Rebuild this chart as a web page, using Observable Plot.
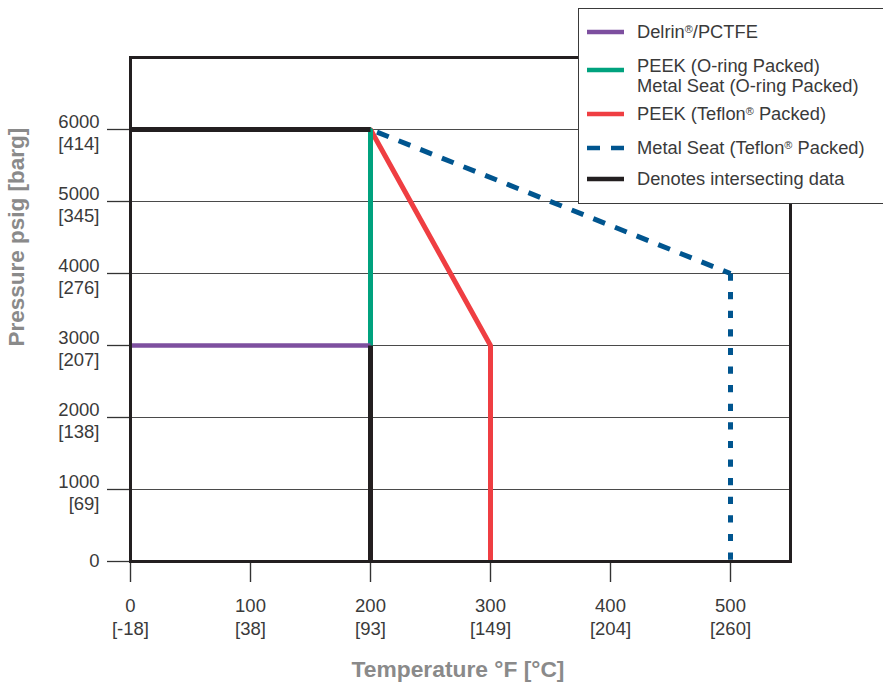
<!DOCTYPE html>
<html>
<head>
<meta charset="utf-8">
<script src="https://cdn.jsdelivr.net/npm/d3@7"></script>
<script src="https://cdn.jsdelivr.net/npm/@observablehq/plot@0.6"></script>
<style>
  html, body { margin: 0; padding: 0; background: #fff; overflow: hidden; }
  #wrap { position: relative; width: 883px; height: 685px; overflow: hidden; font-family: "Liberation Sans", Arial, sans-serif; }
  #wrap > svg.chart { position: absolute; left: 0; top: 0; }
  #legend { position: absolute; left: 578px; top: 8px; width: 330px; height: 196px; box-sizing: border-box;
            border: 1.5px solid #3a3a3a; background: #fff; }
  .lg-text { position: absolute; left: 637px; font-size: 18.3px; line-height: 20px; color: #3a3a3a; white-space: pre; }
  svg.lg-sw { position: absolute; left: 587px; }
  .reg { font-size: 0.6em; vertical-align: 0.45em; line-height: 0; }
</style>
</head>
<body>
<div id="wrap"></div>
<script>
// ---------- data ----------
const tempF = [0, 100, 200, 300, 400, 500];
const tempC = ["[-18]", "[38]", "[93]", "[149]", "[204]", "[260]"];
const pressPsig = [0, 1000, 2000, 3000, 4000, 5000, 6000];
const pressBarg = ["", "[69]", "[138]", "[207]", "[276]", "[345]", "[414]"];

const delrinT = [0, 200, 200];
const delrinP = [3000, 3000, 0];
const oringT = [0, 200, 200];
const oringP = [6000, 6000, 0];
const peekTeflonT = [0, 200, 300, 300];
const peekTeflonP = [6000, 6000, 3000, 0];
const metalTeflonT = [0, 200, 500, 500];
const metalTeflonP = [6000, 6000, 4000, 0];
const sharedT = [[0, 200], [200, 200]];
const sharedP = [[6000, 6000], [3000, 0]];

const legendLabels = [
  "Delrin®/PCTFE",
  "PEEK (O-ring Packed)\nMetal Seat (O-ring Packed)",
  "PEEK (Teflon® Packed)",
  "Metal Seat (Teflon® Packed)",
  "Denotes intersecting data"
];
const xTitle = "Temperature °F [°C]";
const yTitle = "Pressure psig [barg]";

// ---------- styles ----------
const cPurple = "#7d4f9f", cGreen = "#00a27e", cRed = "#ef3e42", cBlue = "#00558f", cBlack = "#231f20";
const labelColor = "#3a3a3a", titleColor = "#8a8a8a";

const pts = (T, P) => T.map((t, i) => ({t, p: P[i]}));
const lineOpts = (stroke, w = 5) => ({x: "t", y: "p", stroke, strokeWidth: w, strokeLinecap: "butt", strokeLinejoin: "miter"});

const metal = pts(metalTeflonT, metalTeflonP);
const shared = sharedT.flatMap((T, k) => T.map((t, i) => ({t, p: sharedP[k][i], seg: k})));

const chart = Plot.plot({
  width: 883, height: 685,
  marginLeft: 130, marginRight: 93, marginTop: 57, marginBottom: 124,
  x: {domain: [0, 550]},
  y: {domain: [0, 7000]},
  style: {fontFamily: '"Liberation Sans", Arial, sans-serif', background: "#fff", overflow: "visible"},
  marks: [
    Plot.ruleY(pressPsig.filter(d => d > 0), {stroke: "#4a4a4a", strokeWidth: 1.2}),
    Plot.axisY({ticks: pressPsig, tickSize: 23, tickFormat: () => "", label: null, stroke: "#333", strokeWidth: 1.3}),
    Plot.axisX({ticks: tempF, tickSize: 21, tickFormat: () => "", label: null, stroke: "#333", strokeWidth: 1.4}),
    // y tick labels
    Plot.text(pressPsig, {filter: d => d > 0, y: d => d, text: d => `${d}\n${pressBarg[pressPsig.indexOf(d)]}`,
      frameAnchor: "left", textAnchor: "end", lineAnchor: "middle", lineHeight: 1.2, dx: -31, dy: 2,
      fontSize: 18.5, fill: labelColor}),
    Plot.text(pressPsig, {filter: d => d === 0, y: d => d, text: d => `${d}`,
      frameAnchor: "left", textAnchor: "end", lineAnchor: "middle", dx: -31, fontSize: 18.5, fill: labelColor}),
    // x tick labels
    Plot.text(tempF, {x: d => d, text: (d, i) => `${d}\n${tempC[i]}`, frameAnchor: "bottom", lineAnchor: "top",
      lineHeight: 1.24, dy: 34, fontSize: 18.5, fill: labelColor}),
    // axis titles
    Plot.text([xTitle], {text: d => d, frameAnchor: "bottom", lineAnchor: "middle", dy: 108.5, dx: -2.5,
      fontSize: 22.8, fontWeight: "bold", fill: titleColor}),
    Plot.text([yTitle], {text: d => d, frameAnchor: "left", lineAnchor: "middle", rotate: -90, dx: -114, dy: 37,
      fontSize: 22.5, fontWeight: "bold", fill: titleColor}),
    // series
    Plot.line(metal.slice(1, 3), {...lineOpts(cBlue), strokeDasharray: "12.6,10.7", strokeDashoffset: 16.3}),
    Plot.line(metal.slice(2, 4), {...lineOpts(cBlue), strokeDasharray: "7.2,11.4"}),
    Plot.line(pts(peekTeflonT, peekTeflonP), lineOpts(cRed)),
    Plot.line(pts(oringT, oringP), lineOpts(cGreen)),
    Plot.line(pts(delrinT, delrinP).slice(0, 2), lineOpts(cPurple, 4.5)),
    Plot.line(shared, {...lineOpts(cBlack), z: "seg"}),
    Plot.frame({stroke: cBlack, strokeWidth: 3})
  ]
});
chart.classList.add("chart");

const wrap = document.getElementById("wrap");
wrap.appendChild(chart);

// ---------- legend ----------
const legend = d3.select(wrap);
legend.append("div").attr("id", "legend");
const swatchY = [32, 70, 113.5, 148, 179];
const textY = [32, 66, 114, 147.5, 178.5];
const swColors = [cPurple, cGreen, cRed, cBlue, cBlack];
legendLabels.forEach((lab, i) => {
  const sw = legend.append("svg").attr("class", "lg-sw")
    .attr("width", 37).attr("height", 6)
    .style("top", (swatchY[i] - 3) + "px");
  sw.append("line").attr("x1", 0).attr("x2", 37).attr("y1", 3).attr("y2", 3)
    .attr("stroke", swColors[i]).attr("stroke-width", 4.5)
    .attr("stroke-dasharray", i === 3 ? "13,11" : null);
  const html = lab.split("®").map(s => s.replace(/&/g, "&amp;").replace(/</g, "&lt;")).join('<span class="reg">®</span>');
  legend.append("div").attr("class", "lg-text")
    .style("top", (textY[i] - 10) + "px")
    .html(html);
});
</script>
</body>
</html>
